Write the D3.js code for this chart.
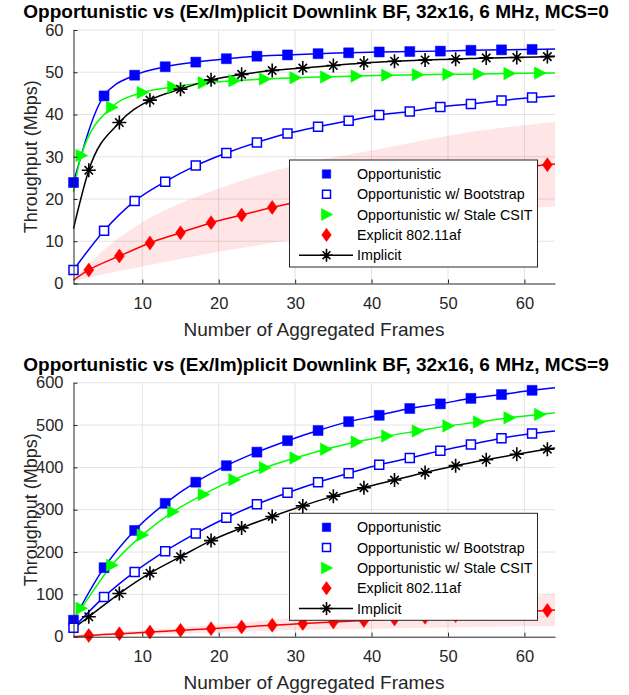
<!DOCTYPE html>
<html>
<head>
<meta charset="utf-8">
<script src="https://cdn.jsdelivr.net/npm/d3@7"></script>
<style>
  html, body { margin: 0; padding: 0; background: #fff; }
  svg { display: block; }
  text { font-family: "Liberation Sans", Arial, Helvetica, sans-serif; }
</style>
</head>
<body>
<svg id="chart" width="629" height="695"></svg>
<script>
// ---------------- DATA ----------------
const xOpp   = [1, 5, 9, 13, 17, 21, 25, 29, 33, 37, 41, 45, 49, 53, 57, 61];
const xStale = [2, 6, 10, 14, 18, 22, 26, 30, 34, 38, 42, 46, 50, 54, 58, 62];
const xExpl  = [3, 7, 11, 15, 19, 23, 27, 31, 35, 39, 43, 47, 51, 55, 59, 63];
const xImpl  = [3, 7, 11, 15, 19, 23, 27, 31, 35, 39, 43, 47, 51, 55, 59, 63];
const xStart = 1, xEnd = 64;

// MCS=0 (top)
const top_opp   = [23.9, 44.4, 49.3, 51.3, 52.4, 53.2, 53.8, 54.1, 54.4, 54.6, 54.8, 54.9, 55.0, 55.2, 55.3, 55.4];
const top_boot  = [3.2, 12.5, 19.5, 24.1, 27.9, 30.9, 33.4, 35.5, 37.1, 38.5, 39.9, 40.7, 41.8, 42.5, 43.3, 44.0];
const top_stale = [30.3, 41.7, 45.2, 46.5, 47.5, 48.0, 48.4, 48.7, 48.9, 49.1, 49.3, 49.4, 49.5, 49.6, 49.7, 49.8];
const top_expl  = [3.2, 6.5, 9.6, 12.0, 14.4, 16.2, 18.0, 19.6, 21.0, 22.3, 23.5, 24.6, 25.6, 26.5, 27.4, 28.1];
const top_impl  = [26.8, 38.1, 43.4, 46.0, 48.2, 49.5, 50.4, 51.0, 51.6, 52.2, 52.6, 52.9, 53.1, 53.4, 53.5, 53.7];
// line values at x=1 (start) and x=64 (end)
const top_opp_end = [23.9, 55.5];
const top_boot_end = [3.2, 44.4];
const top_stale_end = [21.7, 49.8];
const top_expl_end = [0.8, 28.3];
const top_impl_end = [13.0, 53.8];
// spread band around Explicit
const top_bandX  = [1, 5, 10, 15, 20, 25, 30, 40, 50, 64];
const top_bandLo = [0.6, 2.2, 4.0, 5.8, 7.5, 9.0, 10.5, 13.0, 15.8, 18.3];
const top_bandHi = [1.0, 8.0, 14.5, 19.0, 22.5, 25.5, 28.0, 31.5, 35.0, 38.3];

// MCS=9 (bottom)
const bot_opp   = [39, 163, 251, 315, 365, 404, 436, 463, 487, 508, 523, 539, 550, 563, 572, 582];
const bot_boot  = [21, 94, 153, 202, 244, 281, 313, 340, 365, 386, 406, 422, 439, 454, 469, 480];
const bot_stale = [67, 169, 240, 295, 336, 371, 399, 422, 443, 460, 474, 486, 498, 507, 517, 525];
const bot_expl  = [3, 7, 11, 15, 19, 23, 27, 31, 35, 38, 42, 46, 50, 54, 58, 62];
const bot_impl  = [47, 102, 150, 189, 227, 257, 284, 309, 332, 352, 370, 388, 404, 418, 431, 443];
const bot_opp_end = [39, 588];
const bot_boot_end = [21, 486];
const bot_stale_end = [42, 529];
const bot_expl_end = [0, 63];
const bot_impl_end = [20, 446];
const bot_bandX  = [1, 10, 20, 30, 40, 50, 64];
const bot_bandLo = [0, 5, 10, 16, 19, 22, 25];
const bot_bandHi = [1, 15, 29, 45, 60, 76, 100];

const xTicks = [10, 20, 30, 40, 50, 60];
const top_yTicks = [0, 10, 20, 30, 40, 50, 60];
const bot_yTicks = [0, 100, 200, 300, 400, 500, 600];

const seriesNames = ["Opportunistic", "Opportunistic w/ Bootstrap", "Opportunistic w/ Stale CSIT", "Explicit 802.11af", "Implicit"];
const titles = ["Opportunistic vs (Ex/Im)plicit Downlink BF, 32x16, 6 MHz, MCS=0",
                "Opportunistic vs (Ex/Im)plicit Downlink BF, 32x16, 6 MHz, MCS=9"];
const xLabel = "Number of Aggregated Frames";
const yLabel = "Throughput (Mbps)";

// ---------------- DRAW ----------------
const svg = d3.select("#chart");
const AX = "#262626";
const BLUE = "#0000ff", GREEN = "#00ff00", RED = "#ff0000", BLACK = "#000000";

function markerPath(type, s) {
  if (type === "square") { const h = s / 2; return `M${-h},${-h}H${h}V${h}H${-h}Z`; }
  if (type === "tri") { const h = s / 2; return `M${-h * 0.85},${-h}L${h * 1.05},0L${-h * 0.85},${h}Z`; }
  if (type === "diamond") { const w = s * 0.4, h = s * 0.56; return `M0,${-h}L${w},0L0,${h}L${-w},0Z`; }
  if (type === "star") {
    const r = s / 2; let p = "";
    const angs = [0, Math.PI / 2, Math.PI / 4, -Math.PI / 4];
    angs.forEach((ang, k) => {
      const rr = (k < 2) ? r : r * 0.85;
      p += `M${-rr * Math.cos(ang)},${-rr * Math.sin(ang)}L${rr * Math.cos(ang)},${rr * Math.sin(ang)}`;
    });
    return p;
  }
}

function styleMarker(m, s) {
  if (s.marker === "star") {
    m.attr("fill", "none").attr("stroke", s.color).attr("stroke-width", 1.6);
  } else if (s.open) {
    m.attr("fill", "#fff").attr("stroke", s.color).attr("stroke-width", 1.5);
  } else {
    m.attr("fill", s.color).attr("stroke", s.color).attr("stroke-width", 0.5);
  }
}

function panel(cfg) {
  const { top, bottom, yMax, yTicks, data, band, title, legendTop } = cfg;
  const x = d3.scaleLinear().domain([xStart, xEnd]).range([73.5, 555]);
  const y = d3.scaleLinear().domain([0, yMax]).range([bottom, top]);
  const g = svg.append("g");

  // grid
  g.append("g").selectAll("line").data(xTicks).join("line")
    .attr("x1", d => x(d)).attr("x2", d => x(d)).attr("y1", top).attr("y2", bottom)
    .attr("stroke", "#e3e3e3").attr("stroke-width", 1);
  g.append("g").selectAll("line").data(yTicks.filter(d => d > 0)).join("line")
    .attr("x1", x(xStart)).attr("x2", x(xEnd)).attr("y1", d => y(d)).attr("y2", d => y(d))
    .attr("stroke", "#e3e3e3").attr("stroke-width", 1);

  // band
  const bandData = band.x.map((v, i) => ({ x: v, lo: band.lo[i], hi: band.hi[i] }));
  g.append("path").datum(bandData)
    .attr("d", d3.area().x(d => x(d.x)).y0(d => y(d.lo)).y1(d => y(d.hi)).curve(d3.curveMonotoneX))
    .attr("fill", RED).attr("fill-opacity", 0.1);

  const line = d3.line().x(d => x(d[0])).y(d => y(d[1])).curve(d3.curveMonotoneX);
  data.forEach(s => {
    const linePts = [];
    if (s.xs[0] !== xStart) linePts.push([xStart, s.ends[0]]);
    s.xs.forEach((v, i) => linePts.push([v, s.ys[i]]));
    linePts.push([xEnd, s.ends[1]]);
    g.append("path").datum(linePts).attr("d", line)
      .attr("fill", "none").attr("stroke", s.color).attr("stroke-width", 1.5);
  });
  data.forEach(s => {
    const mg = g.append("g");
    s.xs.forEach((v, i) => {
      const m = mg.append("path").attr("d", markerPath(s.marker, s.size))
        .attr("transform", `translate(${x(v)},${y(s.ys[i])})`);
      styleMarker(m, s);
    });
  });

  // axes
  const xAxis = d3.axisBottom(x).tickValues(xTicks).tickSizeInner(-4).tickSizeOuter(0).tickPadding(14);
  const gx = g.append("g").attr("transform", `translate(0,${bottom})`).call(xAxis);
  const yAxis = d3.axisLeft(y).tickValues(yTicks).tickSizeInner(-4).tickSizeOuter(0).tickPadding(10);
  const gy = g.append("g").attr("transform", `translate(${x(xStart)},0)`).call(yAxis);
  [gx, gy].forEach(a => {
    a.select(".domain").attr("stroke", AX).attr("stroke-width", 1);
    a.selectAll(".tick line").attr("stroke", AX);
    a.selectAll(".tick text").attr("fill", AX).attr("font-size", 16.5)
      .attr("font-family", "Liberation Sans, Arial, sans-serif");
  });

  // labels
  g.append("text").attr("x", 314).attr("y", bottom + 52).attr("text-anchor", "middle")
    .attr("font-size", 19).attr("fill", AX).text(xLabel);
  g.append("text").attr("transform", `translate(37,${(top + bottom) / 2}) rotate(-90)`)
    .attr("text-anchor", "middle").attr("font-size", 18).attr("fill", AX).text(yLabel);
  g.append("text").attr("x", 316).attr("y", top - 12).attr("text-anchor", "middle")
    .attr("font-size", 19).attr("font-weight", "bold").attr("fill", "#000").text(title);

  // legend
  const lg = g.append("g");
  const lx0 = 289.5, lx1 = 537.5, ly0 = legendTop, ly1 = legendTop + 107;
  lg.append("rect").attr("x", lx0).attr("y", ly0).attr("width", lx1 - lx0).attr("height", ly1 - ly0)
    .attr("fill", "#fff").attr("stroke", AX).attr("stroke-width", 1);
  data.forEach((s, i) => {
    const yy = ly0 + 14 + i * 20.3;
    if (s.legendLine) {
      lg.append("line").attr("x1", 299).attr("x2", 353).attr("y1", yy).attr("y2", yy)
        .attr("stroke", s.color).attr("stroke-width", 1.5);
    }
    const m = lg.append("path").attr("d", markerPath(s.marker, s.legendSize))
      .attr("transform", `translate(326.5,${yy})`);
    styleMarker(m, s);
    lg.append("text").attr("x", 357).attr("y", yy).attr("dy", "0.35em")
      .attr("font-size", 14.3).attr("fill", "#000").text(seriesNames[i]);
  });
}

function series(opp, boot, stale, expl, impl, ends) {
  return [
    { xs: xOpp, ys: opp, ends: ends[0], color: BLUE, marker: "square", size: 10, legendSize: 8.5 },
    { xs: xOpp, ys: boot, ends: ends[1], color: BLUE, marker: "square", open: true, size: 9, legendSize: 8 },
    { xs: xStale, ys: stale, ends: ends[2], color: GREEN, marker: "tri", size: 12.5, legendSize: 12 },
    { xs: xExpl, ys: expl, ends: ends[3], color: RED, marker: "diamond", size: 12.5, legendSize: 12 },
    { xs: xImpl, ys: impl, ends: ends[4], color: BLACK, marker: "star", size: 14, legendSize: 13, legendLine: true }
  ];
}

panel({
  top: 30, bottom: 283.5, yMax: 60, yTicks: top_yTicks, title: titles[0], legendTop: 160,
  data: series(top_opp, top_boot, top_stale, top_expl, top_impl,
    [top_opp_end, top_boot_end, top_stale_end, top_expl_end, top_impl_end]),
  band: { x: top_bandX, lo: top_bandLo, hi: top_bandHi }
});
panel({
  top: 382.7, bottom: 636.7, yMax: 600, yTicks: bot_yTicks, title: titles[1], legendTop: 513.3,
  data: series(bot_opp, bot_boot, bot_stale, bot_expl, bot_impl,
    [bot_opp_end, bot_boot_end, bot_stale_end, bot_expl_end, bot_impl_end]),
  band: { x: bot_bandX, lo: bot_bandLo, hi: bot_bandHi }
});
</script>
</body>
</html>
